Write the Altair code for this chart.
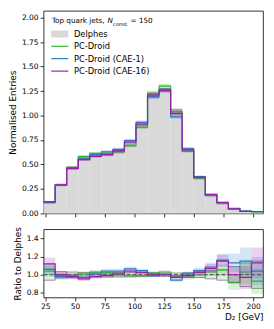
import altair as alt
import pandas as pd

# ---------------- data ----------------
edges = [23.6, 33.32, 43.04, 52.76, 62.48, 72.2, 81.92, 91.64, 101.36, 111.08,
         120.8, 130.52, 140.24, 149.96, 159.68, 169.4, 179.12, 188.84, 198.56, 208.28]
delphes = [0.107, 0.293, 0.47, 0.575, 0.595, 0.605, 0.63, 0.70, 0.89, 1.205,
           1.26, 1.05, 0.655, 0.36, 0.18, 0.097, 0.047, 0.022, 0.018]
pc_droid = [0.111, 0.29, 0.465, 0.58, 0.613, 0.617, 0.63, 0.693, 0.88, 1.23,
            1.30, 1.04, 0.635, 0.36, 0.185, 0.102, 0.043, 0.023, 0.017]
cae1 = [0.113, 0.287, 0.46, 0.558, 0.60, 0.63, 0.655, 0.745, 0.93, 1.19,
        1.26, 0.987, 0.66, 0.376, 0.195, 0.113, 0.053, 0.025, 0.019]
cae16 = [0.12, 0.293, 0.46, 0.55, 0.583, 0.60, 0.64, 0.728, 0.912, 1.21,
         1.26, 1.02, 0.648, 0.369, 0.193, 0.112, 0.047, 0.021, 0.02]
rel_err = [0.06, 0.035, 0.03, 0.025, 0.025, 0.025, 0.025, 0.023, 0.02, 0.018,
           0.018, 0.019, 0.024, 0.032, 0.045, 0.06, 0.09, 0.13, 0.15]
ratio_pc = [1.04, 0.99, 0.99, 1.01, 1.03, 1.02, 1.0, 0.99, 0.99, 1.02,
            1.03, 0.99, 0.97, 1.0, 1.03, 1.05, 0.915, 1.03, 0.93]
ratio_cae1 = [1.06, 0.98, 0.98, 0.97, 1.01, 1.04, 1.04, 1.065, 1.045, 0.99,
              1.0, 0.94, 1.01, 1.045, 1.085, 1.16, 1.13, 1.15, 1.04]
ratio_cae16 = [1.12, 1.0, 0.98, 0.955, 0.98, 0.99, 1.01, 1.04, 1.025, 1.005,
               1.0, 0.97, 0.99, 1.025, 1.07, 1.15, 1.0, 0.97, 1.13]

names = ["Delphes", "PC-Droid", "PC-Droid (CAE-1)", "PC-Droid (CAE-16)"]
colors = ["#d9d9d9", "#33b833", "#2a7fc8", "#9a1fa6"]
x_ticks = [25, 50, 75, 100, 125, 150, 175, 200]
main_ticks = [0.0, 0.25, 0.5, 0.75, 1.0, 1.25, 1.5, 1.75, 2.0]
ratio_ticks = [0.8, 1.0, 1.2, 1.4]
legend_title = ["Top quark jets, ", "N", "const", "= 150"]

# ---------------- layout ----------------
W = 222
H_MAIN = 205
H_RATIO = 69
XDOM = [edges[0], edges[-1]]
FONT = "DejaVu Sans"

xscale = alt.Scale(domain=XDOM, nice=False, zero=False)
yscale_main = alt.Scale(domain=[0, 2.07], nice=False, zero=False)
yscale_ratio = alt.Scale(domain=[0.75, 1.5], nice=False, zero=False)

axis_main_x = alt.Axis(values=x_ticks, labels=False, title=None, grid=False, domain=False,
                       ticks=True, tickSize=3.5)
axis_ratio_x = alt.Axis(values=x_ticks, format="d", title="D\u2082 [GeV]", grid=False,
                        domain=False, titleAnchor="end", titleFontSize=9,
                        titleFontWeight="normal", titlePadding=2)
axis_main_y = alt.Axis(values=main_ticks, format=".2f", title="Normalised Entries",
                       grid=False, domain=False, titleFontSize=9,
                       titleFontWeight="normal", titlePadding=3.5)
axis_ratio_y = alt.Axis(values=ratio_ticks, format=".1f", title="Ratio to Delphes",
                        grid=False, domain=False, titleFontSize=9,
                        titleFontWeight="normal", titlePadding=3.5)


def bins_df(vals, err):
    return pd.DataFrame({
        "lo": edges[:-1], "hi": edges[1:], "v": vals,
        "vlo": [v * (1 - e) for v, e in zip(vals, err)],
        "vhi": [v * (1 + e) for v, e in zip(vals, err)],
    })


def steps_df(vals):
    return pd.DataFrame({"x": edges, "y": list(vals) + [vals[-1]]})


def rect_layer(df, xaxis, yscale, yaxis, **kw):
    return alt.Chart(df).mark_rect(**kw).encode(
        x=alt.X("lo:Q", scale=xscale, axis=xaxis), x2="hi:Q",
        y=alt.Y("vlo:Q", scale=yscale, axis=yaxis), y2="vhi:Q")


def step_layer(vals, xaxis, yscale, yaxis, **kw):
    return alt.Chart(steps_df(vals)).mark_line(interpolate="step-after", **kw).encode(
        x=alt.X("x:Q", scale=xscale, axis=xaxis),
        y=alt.Y("y:Q", scale=yscale, axis=yaxis))


# ---------------- main panel ----------------
dfill = pd.DataFrame({"lo": edges[:-1], "hi": edges[1:], "vlo": [0.0] * len(delphes),
                      "vhi": delphes})
main_layers = [
    rect_layer(dfill, axis_main_x, yscale_main, axis_main_y, color=colors[0]),
    rect_layer(bins_df(delphes, rel_err), axis_main_x, yscale_main, axis_main_y,
               color="#8a8a8a", opacity=0.75),
    step_layer(delphes, axis_main_x, yscale_main, axis_main_y, color="#c8c8c8",
               strokeWidth=0.8, strokeDash=[3, 2]),
]
for vals, col in [(pc_droid, colors[1]), (cae1, colors[2]), (cae16, colors[3])]:
    main_layers.append(rect_layer(bins_df(vals, rel_err), axis_main_x, yscale_main,
                                  axis_main_y, color=col, opacity=0.3))
    main_layers.append(step_layer(vals, axis_main_x, yscale_main, axis_main_y,
                                  color=col, strokeWidth=1.2))

one = pd.DataFrame({"a": [0]})
# legend title with italic N and subscript
title_x = [8.4, 64.6, 70.3, 88.0]
title_fs = [7.3, 7.3, 5.2, 7.3]
title_dy = [0, 0, 2.2, 0]
for txt, tx, fs, dy, st in zip(legend_title, title_x, title_fs, title_dy,
                               ["normal", "italic", "normal", "normal"]):
    main_layers.append(alt.Chart(one).mark_text(
        text=txt, align="left", baseline="middle", fontSize=fs, font=FONT,
        fontStyle=st, color="black", dy=dy).encode(x=alt.value(tx), y=alt.value(10.8)))

leg_y = [23.4, 35.9, 48.4, 61.0]
main_layers.append(alt.Chart(one).mark_rect(color=colors[0]).encode(
    x=alt.value(7.7), x2=alt.value(25), y=alt.value(leg_y[0] - 3.6),
    y2=alt.value(leg_y[0] + 3.6)))
for i in range(1, 4):
    main_layers.append(alt.Chart(one).mark_rule(color=colors[i], strokeWidth=1.2).encode(
        x=alt.value(7.7), x2=alt.value(25), y=alt.value(leg_y[i])))
for i in range(4):
    main_layers.append(alt.Chart(one).mark_text(
        text=names[i], align="left", baseline="middle", fontSize=8.4, font=FONT,
        color="black").encode(x=alt.value(30.7), y=alt.value(leg_y[i])))

main = alt.layer(*main_layers).properties(width=W, height=H_MAIN)

# ---------------- ratio panel ----------------
ratio_layers = [
    rect_layer(bins_df([1.0] * len(delphes), rel_err), axis_ratio_x, yscale_ratio,
               axis_ratio_y, fill="#bdbdbd", fillOpacity=0.35, stroke="#7a7a7a",
               strokeWidth=0.8),
    alt.Chart(pd.DataFrame({"x": [XDOM[0]], "x2": [XDOM[1]], "y": [1.0]})).mark_rule(
        color="black", strokeWidth=0.8, strokeDash=[4, 2]).encode(
        x=alt.X("x:Q", scale=xscale, axis=axis_ratio_x), x2="x2:Q",
        y=alt.Y("y:Q", scale=yscale_ratio, axis=axis_ratio_y)),
]
for vals, col in [(ratio_pc, colors[1]), (ratio_cae1, colors[2]), (ratio_cae16, colors[3])]:
    ratio_layers.append(rect_layer(bins_df(vals, rel_err), axis_ratio_x, yscale_ratio,
                                   axis_ratio_y, color=col, opacity=0.2))
    ratio_layers.append(step_layer(vals, axis_ratio_x, yscale_ratio, axis_ratio_y,
                                   color=col, strokeWidth=1.2))

ratio = alt.layer(*ratio_layers).properties(width=W, height=H_RATIO)

chart = alt.vconcat(main, ratio, spacing=7).properties(padding=0).configure_view(
    stroke="black", strokeWidth=0.8
).configure_axis(
    labelFont=FONT, titleFont=FONT, labelFontSize=7.6, labelColor="black",
    titleColor="black", tickColor="black", tickWidth=0.8, tickSize=3.5,
    labelPadding=2
).configure_text(font=FONT)

chart.save("out.html", embed_options={"renderer": "svg", "actions": False})
